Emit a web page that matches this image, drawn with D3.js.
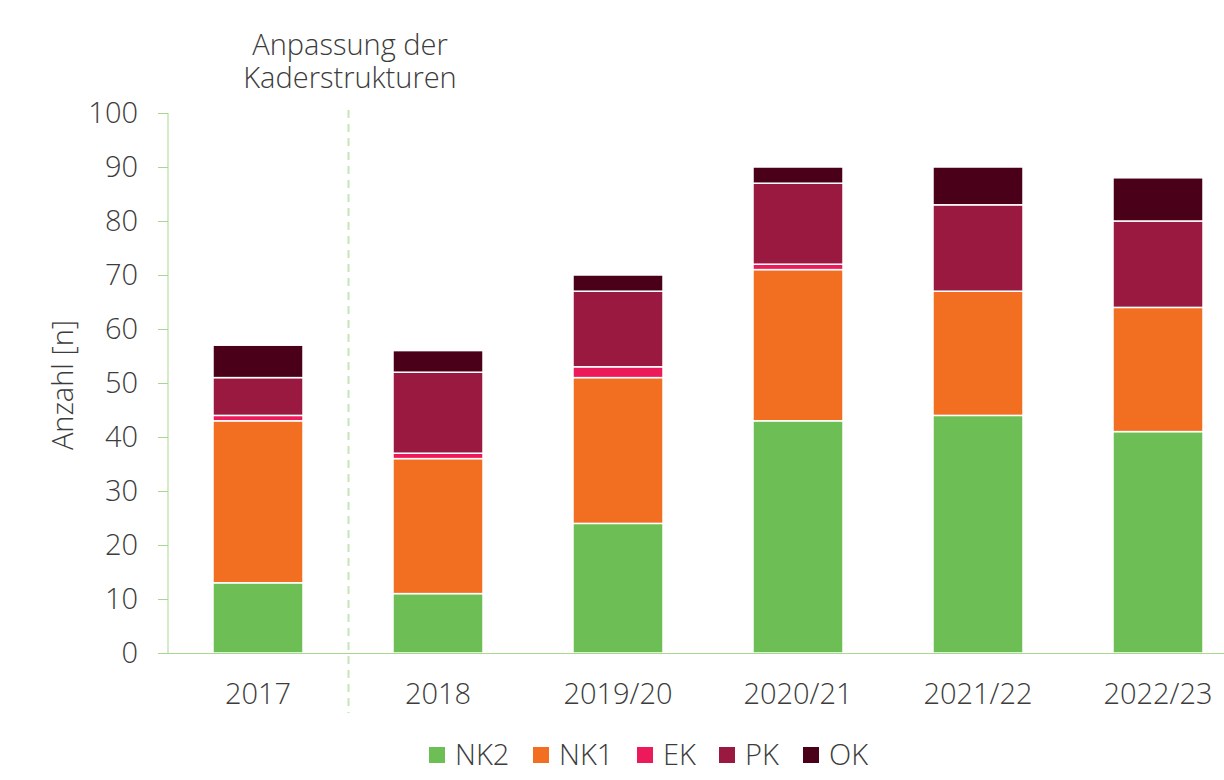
<!DOCTYPE html>
<html><head><meta charset="utf-8">
<script src="https://cdn.jsdelivr.net/npm/d3@7"></script>
<style>body{margin:0;background:#fff}text{font-family:"Open Sans",sans-serif;font-weight:300;fill:#3c3c3c}</style>
</head><body><svg id="c" width="1224" height="780"></svg>
<script>
const categories = ["2017","2018","2019/20","2020/21","2021/22","2022/23"];
const seriesNames = ["NK2","NK1","EK","PK","OK"];
const NK2 = [13,11,24,43,44,41];
const NK1 = [30,25,27,28,23,23];
const EK  = [1,1,2,1,0,0];
const PK  = [7,15,14,15,16,16];
const OK  = [6,4,3,3,7,8];
const yTicks = [0,10,20,30,40,50,60,70,80,90,100];
const colors = ["#6dbe54","#f26f22","#ec1a5a","#9a1940","#4a0018"];
const values = [NK2,NK1,EK,PK,OK];
const FS = "29px";

const svg = d3.select("#c");
const x = d3.scaleBand().domain(categories).range([168,1248]).paddingInner(0.5).paddingOuter(0.25);
const y = d3.scaleLinear().domain([0,100]).range([653,113]);

const rows = categories.map((c,i)=>{const r={cat:c};seriesNames.forEach((s,j)=>r[s]=values[j][i]);return r;});
const stack = d3.stack().keys(seriesNames)(rows);

svg.append("g").selectAll("g").data(stack).join("g")
  .attr("fill",(d,i)=>colors[i])
  .selectAll("rect").data(d=>d.filter(v=>v[1]-v[0]>0)).join("rect")
  .attr("x",d=>x(d.data.cat)).attr("width",x.bandwidth())
  .attr("y",d=>y(d[1])).attr("height",d=>y(d[0])-y(d[1]))
  .attr("stroke","#fff").attr("stroke-width",1.5);

// y axis
const ya = svg.append("g").attr("transform","translate(168,0)")
  .call(d3.axisLeft(y).tickValues(yTicks).tickSize(10).tickPadding(20));
ya.select(".domain").attr("stroke","#a6d98f").attr("d","M-0,113V653");
ya.selectAll(".tick line").attr("stroke","#a6d98f");
ya.selectAll(".tick text").style("font-size",FS).attr("fill","#3c3c3c");

// x axis
const xa = svg.append("g").attr("transform","translate(0,653)")
  .call(d3.axisBottom(x).tickSize(0).tickPadding(30));
xa.select(".domain").attr("stroke","#a6d98f").attr("d","M158,0.5H1224");
xa.selectAll(".tick text").style("font-size",FS).attr("fill","#3c3c3c");

// divider
svg.append("line").attr("x1",348.5).attr("x2",348.5).attr("y1",110).attr("y2",713)
  .attr("stroke","#c5e6b5").attr("stroke-width",2).attr("stroke-dasharray","8,6");

svg.append("text").attr("x",350).attr("y",55).attr("text-anchor","middle").style("font-size",FS).text("Anpassung der");
svg.append("text").attr("x",350).attr("y",88).attr("text-anchor","middle").style("font-size",FS).text("Kaderstrukturen");

svg.append("text").attr("transform","translate(73,385) rotate(-90)").attr("text-anchor","middle").style("font-size",FS).text("Anzahl [n]");

// legend
const lx = [429,533,637,719,803];
const lg = svg.append("g").selectAll("g").data(seriesNames).join("g")
  .attr("transform",(d,i)=>`translate(${lx[i]},747)`);
lg.append("rect").attr("width",16).attr("height",16).attr("fill",(d,i)=>colors[i]);
lg.append("text").attr("x",26).attr("y",18).style("font-size",FS).text(d=>d);
</script></body></html>
